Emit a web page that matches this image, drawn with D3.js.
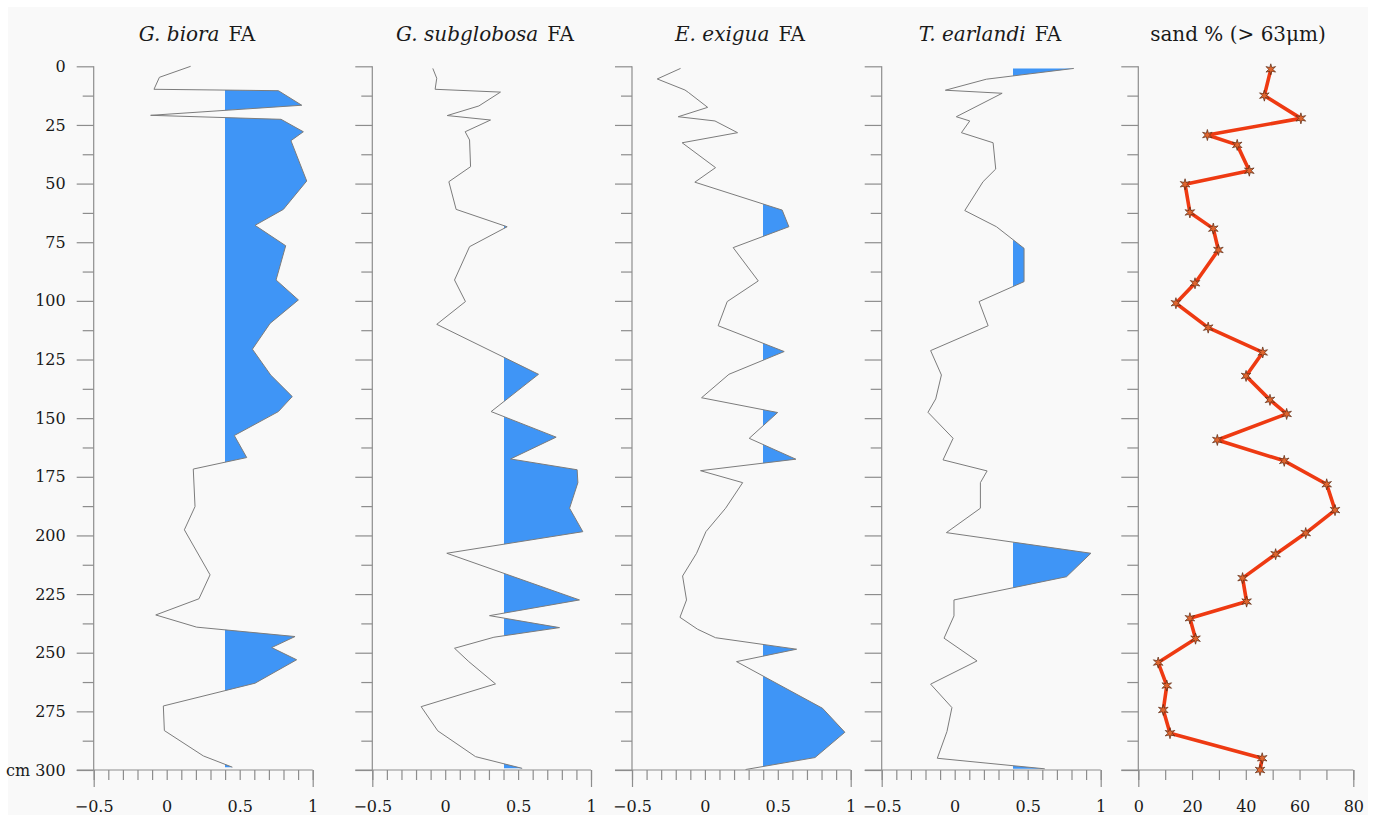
<!DOCTYPE html>
<html>
<head>
<meta charset="utf-8">
<script src="https://cdn.jsdelivr.net/npm/d3@7"></script>
<style>
  body { margin: 0; background: #fff; }
  svg text { fill: #1a1a1a; }
</style>
</head>
<body>
<div id="rootDiv"></div>
<script>
// ---- data ----
const bioraDepth = [0, 4.7, 9.8, 10.4, 16.6, 20.9, 22.6, 27.9, 31.7, 48.9, 61, 67.8, 76.5, 91.1, 99.6, 109.6, 120.6, 131.6, 140.8, 147.2, 157.4, 166.8, 171.7, 187.7, 197.6, 216.8, 227, 233.9, 239.1, 243.1, 247.8, 253, 263, 272.7, 283.2, 294, 298.8]
const bioraFA = [0.164, -0.05, -0.087, 0.765, 0.925, -0.11, 0.783, 0.936, 0.851, 0.959, 0.799, 0.605, 0.815, 0.749, 0.902, 0.708, 0.587, 0.712, 0.86, 0.765, 0.463, 0.548, 0.182, 0.194, 0.121, 0.297, 0.221, -0.075, 0.205, 0.879, 0.719, 0.89, 0.605, -0.023, -0.016, 0.251, 0.45]

const subglobosaDepth = [0.9, 5.1, 9.8, 11, 16.9, 21, 22.9, 27.9, 31.4, 42.8, 49.2, 61, 68.4, 76.9, 91.1, 100.3, 110, 131.3, 147.2, 158.1, 167.4, 172, 177.5, 188.4, 198.4, 207.6, 227.5, 234.2, 239.3, 243.4, 248.1, 253.8, 263.3, 273, 283.3, 294.3, 299.3]
const subglobosaFA = [-0.085, -0.058, -0.069, 0.379, 0.231, 0.014, 0.311, 0.137, 0.167, 0.174, 0.025, 0.075, 0.425, 0.167, 0.064, 0.139, -0.058, 0.64, 0.315, 0.761, 0.448, 0.905, 0.91, 0.853, 0.944, 0.011, 0.921, 0.304, 0.784, 0.334, 0.064, 0.162, 0.345, -0.165, -0.051, 0.208, 0.528]

const exiguaDepth = [0.9, 5.4, 10.1, 11.1, 17.5, 21.5, 23.3, 28.3, 32.6, 43.2, 49.4, 61.3, 68.4, 77.3, 91.5, 100.3, 110.6, 121.6, 131.3, 141.3, 147.6, 158.6, 167.5, 172.4, 177.5, 188.4, 198.4, 207.6, 217.3, 227.5, 234.9, 240, 243.6, 248.5, 253.8, 273.7, 283.9, 294.7, 299.8]
const exiguaFA = [-0.167, -0.327, -0.137, -0.114, 0.019, -0.183, 0.069, 0.224, -0.156, 0.073, -0.069, 0.53, 0.576, 0.194, 0.366, 0.153, 0.091, 0.544, 0.165, -0.023, 0.499, 0.304, 0.624, -0.03, 0.259, 0.142, 0.007, -0.057, -0.153, -0.126, -0.171, -0.05, 0.073, 0.629, 0.217, 0.807, 0.96, 0.755, 0.279]

const earlandiDepth = [0.9, 5.5, 10.2, 11.5, 21.5, 23.3, 28.3, 32.6, 43.8, 49.2, 61.5, 68.4, 77.6, 91.8, 100.3, 110.6, 121.2, 131.6, 141.8, 147.5, 158.6, 167.8, 172.5, 177.5, 188.4, 198.8, 207.6, 217.6, 227.5, 234.3, 243.8, 253.5, 263.4, 273.4, 283.6, 295, 299.5]
const earlandiFA = [0.816, 0.217, -0.064, 0.325, 0.011, 0.103, 0.046, 0.263, 0.281, 0.194, 0.069, 0.286, 0.475, 0.475, 0.167, 0.229, -0.165, -0.091, -0.13, -0.183, -0.011, -0.08, 0.222, 0.176, 0.176, -0.057, 0.933, 0.766, -0.005, -0.005, -0.073, 0.153, -0.165, -0.019, -0.053, -0.119, 0.617]

const sandDepth = [1.3, 12.5, 22.2, 29.3, 33.5, 44.5, 50.3, 62.3, 69.2, 78.3, 92.5, 101, 111.4, 122, 132, 142.2, 148.2, 159.3, 168.2, 178.2, 189.2, 199, 208, 218.2, 228.2, 235.3, 244, 254.2, 264, 274.4, 284.3, 295, 300]
const sandPct = [49.3, 46.9, 60.5, 25.7, 36.8, 41.3, 17.4, 19.2, 27.9, 29.8, 21.1, 14.0, 26.0, 46.3, 40.1, 49.0, 55.2, 29.4, 54.3, 70.1, 73.2, 62.3, 51.1, 38.8, 40.3, 19.2, 21.3, 7.4, 10.6, 9.3, 11.8, 46.1, 45.3]

const depthMajor = [0, 25, 50, 75, 100, 125, 150, 175, 200, 225, 250, 275, 300]
const faTickLabels = [-0.5, 0, 0.5, 1]
const sandTickLabels = [0, 20, 40, 60, 80]
const faThreshold = 0.4

// ---- layout ----
const W = 1375, H = 821
const plotTop = 66.3, plotBottom = 770
const serif = 'DejaVu Serif'
const blue = '#3f95f6'
const gray = '#7c7c7c'
const axisCol = '#8d8d8d'

const panels = [
    { name: 'G. biora', depth: bioraDepth, val: bioraFA, left: 93.7, width: 219, titleX: 197 },
    { name: 'G. subglobosa', depth: subglobosaDepth, val: subglobosaFA, left: 372.3, width: 218.7, titleX: 485 },
    { name: 'E. exigua', depth: exiguaDepth, val: exiguaFA, left: 632, width: 218.7, titleX: 740 },
    { name: 'T. earlandi', depth: earlandiDepth, val: earlandiFA, left: 881.7, width: 219, titleX: 990 },
]

const y = d3.scaleLinear().domain([0, 300]).range([plotTop, plotBottom])

const svg = d3.select('#rootDiv').append('svg')
    .attr('width', W)
    .attr('height', H)
    .style('display', 'block')

svg.append('rect')
    .attr('x', 8).attr('y', 7)
    .attr('width', 1360).attr('height', 808)
    .attr('fill', '#f9f9f9')

function styleAxis(g) {
    g.select('.domain').remove()
    g.attr('font-family', null).attr('font-size', null)
    g.selectAll('line').attr('stroke', axisCol).attr('stroke-width', 1.2)
    g.selectAll('text')
        .style('font-family', serif)
        .style('font-size', '16px')
        .attr('fill', '#1a1a1a')
}

function drawFrame(g, x, tickStep, labels, labelFmt, showDepth) {
    const x0 = x.range()[0]
    const minorDepth = d3.range(12.5, 300, 25)

    // y axis: vertical line + ticks
    g.append('line')
        .attr('x1', x0).attr('x2', x0)
        .attr('y1', y(0)).attr('y2', y(300))
        .attr('stroke', axisCol).attr('stroke-width', 1.2)
    g.append('g').attr('transform', `translate(${x0},0)`)
        .call(d3.axisLeft(y).tickValues(depthMajor).tickSize(17).tickFormat(''))
        .call(styleAxis)
    g.append('g').attr('transform', `translate(${x0},0)`)
        .call(d3.axisLeft(y).tickValues(minorDepth).tickSize(11).tickFormat(''))
        .call(styleAxis)
    if (showDepth) {
        g.append('g').attr('transform', `translate(${x0},0)`)
            .call(d3.axisLeft(y).tickValues(depthMajor).tickSize(0).tickPadding(28)
                .tickFormat(d => d === 300 ? 'cm 300' : d))
            .call(styleAxis)
    }

    // x axis along the bottom
    const [d0, d1] = x.domain()
    g.append('line')
        .attr('x1', x0 - 17).attr('x2', x.range()[1])
        .attr('y1', y(300)).attr('y2', y(300))
        .attr('stroke', axisCol).attr('stroke-width', 1.2)
    const minorX = d3.range(0, Math.round((d1 - d0) / tickStep) + 1).map(i => d0 + i * tickStep)
    g.append('g').attr('transform', `translate(0,${y(300)})`)
        .call(d3.axisBottom(x).tickValues(minorX).tickSize(10).tickFormat(''))
        .call(styleAxis)
    g.append('g').attr('transform', `translate(0,${y(300)})`)
        .call(d3.axisBottom(x).tickValues([d0, d1]).tickSize(17).tickFormat(''))
        .call(styleAxis)
    g.append('g').attr('transform', `translate(0,${y(300)})`)
        .call(d3.axisBottom(x).tickValues(labels).tickSize(0).tickPadding(31).tickFormat(labelFmt))
        .call(styleAxis)
}

const faFmt = d => d < 0 ? '\u2212' + Math.abs(d) : String(d)

panels.forEach((p, i) => {
    const x = d3.scaleLinear().domain([-0.5, 1]).range([p.left, p.left + p.width])
    const g = svg.append('g')
    const pts = p.depth.map((d, k) => ({ d, v: p.val[k] }))
    const thrX = Math.round(x(faThreshold))

    // blue fill where FA exceeds the threshold
    const clipId = 'clip' + i
    svg.append('clipPath').attr('id', clipId)
        .append('rect')
        .attr('x', thrX).attr('y', 0)
        .attr('width', x(1.2) - thrX).attr('height', H)
    g.append('path')
        .datum(pts)
        .attr('clip-path', `url(#${clipId})`)
        .attr('fill', blue)
        .attr('d', d3.area()
            .y(d => y(d.d))
            .x0(thrX)
            .x1(d => x(d.v)))

    g.append('path')
        .datum(pts)
        .attr('fill', 'none')
        .attr('stroke', gray)
        .attr('stroke-width', 1)
        .attr('d', d3.line().x(d => x(d.v)).y(d => y(d.d)))

    drawFrame(g, x, 0.1, faTickLabels, faFmt, i === 0)

    const t = svg.append('text')
        .attr('x', p.titleX).attr('y', 41)
        .attr('text-anchor', 'middle')
        .style('font-family', serif)
        .style('font-size', '20px')
    t.append('tspan').style('font-style', 'italic').text(p.name)
    t.append('tspan').attr('dx', 9).text('FA')
})

// sand panel
const xs = d3.scaleLinear().domain([0, 80]).range([1138.3, 1353.3])
const gs = svg.append('g')
drawFrame(gs, xs, 10, sandTickLabels, d => d, false)

const sandPts = sandDepth.map((d, k) => ({ d, v: sandPct[k] }))
gs.append('path')
    .datum(sandPts)
    .attr('fill', 'none')
    .attr('stroke', '#ee3a12')
    .attr('stroke-width', 3.6)
    .attr('stroke-linejoin', 'round')
    .attr('d', d3.line().x(d => xs(d.v)).y(d => y(d.d)))

// six-armed star marker
const star = {
    draw(ctx, size) {
        const R = Math.sqrt(size) * 0.62, r = R * 0.38
        for (let k = 0; k < 12; k++) {
            const a = -Math.PI / 2 + k * Math.PI / 6
            const rr = k % 2 ? r : R
            if (k === 0) ctx.moveTo(rr * Math.cos(a), rr * Math.sin(a))
            else ctx.lineTo(rr * Math.cos(a), rr * Math.sin(a))
        }
        ctx.closePath()
    }
}
gs.selectAll('path.mark')
    .data(sandPts)
    .enter()
    .append('path')
    .attr('class', 'mark')
    .attr('transform', d => `translate(${xs(d.v)},${y(d.d)})`)
    .attr('d', d3.symbol(star, 80))
    .attr('fill', '#e0652e')
    .attr('stroke', '#5a2a12')
    .attr('stroke-width', 0.7)

svg.append('text')
    .attr('x', 1238).attr('y', 41)
    .attr('text-anchor', 'middle')
    .style('font-family', serif)
    .style('font-size', '20px')
    .text('sand % (> 63\u03bcm)')
</script>
</body>
</html>
